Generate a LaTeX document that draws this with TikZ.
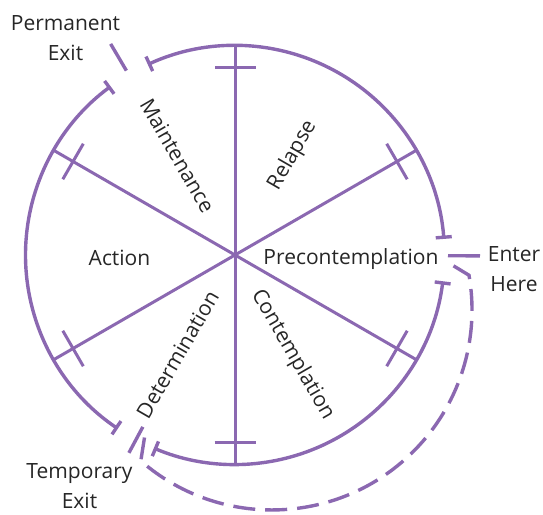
\documentclass[tikz,border=0pt]{standalone}
\usepackage{fontspec}
\setmainfont{Open Sans}
\usetikzlibrary{arrows.meta}
\definecolor{cyc}{RGB}{139,104,177}
\definecolor{txt}{RGB}{38,38,38}
\begin{document}
\begin{tikzpicture}[x=1pt,y=1pt,
  ring/.style={cyc, line width=3.4pt},
  spoke/.style={cyc, line width=3pt},
  tbar/.style={cyc, line width=3pt},
  lbl/.style={text=txt, font=\fontsize{21}{30}\selectfont, inner sep=0pt, align=center},
  capped/.style={ring, {Bar[width=16pt]}-{Bar[width=16pt]}},
  exitline/.style={cyc, line width=3.4pt},
  loopline/.style={cyc, line width=3.4pt, dash pattern=on 22pt off 10pt}]
\useasboundingbox (0,0) rectangle (543,514);
\begin{scope}[shift={(235,259)}]
  \coordinate (O) at (0,0);
  \foreach \a in {30,90,150,210,270,330} {
    \coordinate (s\a) at (\a:209.5);
    \draw[spoke] (O) -- (s\a);
    \draw[tbar, rotate=\a] (187,-20.5) -- (187,20.5);
  }
  % circle arcs with bar ends
  \draw[capped] (114.6:209.5) arc[start angle=114.6, end angle=4.4, radius=209.5];
  \draw[capped] (-7.2:209.5) arc[start angle=-7.2, end angle=-112.8, radius=209.5];
  \draw[capped] (236:209.5) arc[start angle=236, end angle=126.4, radius=209.5];
  % exit / entry marks
  \coordinate (pe1) at (120.5:214);
  \coordinate (pe2) at (120.5:245);
  \draw[exitline] (pe1) -- (pe2);
  \coordinate (en1) at (-0.2:213);
  \coordinate (en2) at (-0.2:245);
  \draw[exitline] (en1) -- (en2);
  \coordinate (te1) at (241.8:195);
  \coordinate (te2) at (241.8:224.5);
  \draw[exitline] (te1) -- (te2);
  % dashed return loop
  \coordinate (ls) at (-90.5,-182.5);
  \coordinate (le) at (213,-7.5);
  \draw[loopline] (ls) -- (-94.2,-205.9) arc[start angle=-131, end angle=10, radius=200] -- (le);
  % sector labels
  \node[lbl, rotate=-60] (mai) at (120:115) {Maintenance};
  \node[lbl, rotate=60] (rel) at (60:115) {Relapse};
  \node[lbl, rotate=60] (det) at (240:115) {Determination};
  \node[lbl, rotate=-60] (con) at (300:115) {Contemplation};
\end{scope}
\node[lbl, anchor=base] (act) at (119.5,248) {Action};
\node[lbl, anchor=base] (pre) at (351,249) {Precontemplation};
\node[lbl] (pex) at (65.5,475.5) {Permanent\\Exit};
\node[lbl] (ent) at (514,244.5) {Enter\\Here};
\node[lbl] (tex) at (79.5,27.5) {Temporary\\Exit};
\end{tikzpicture}
\end{document}
